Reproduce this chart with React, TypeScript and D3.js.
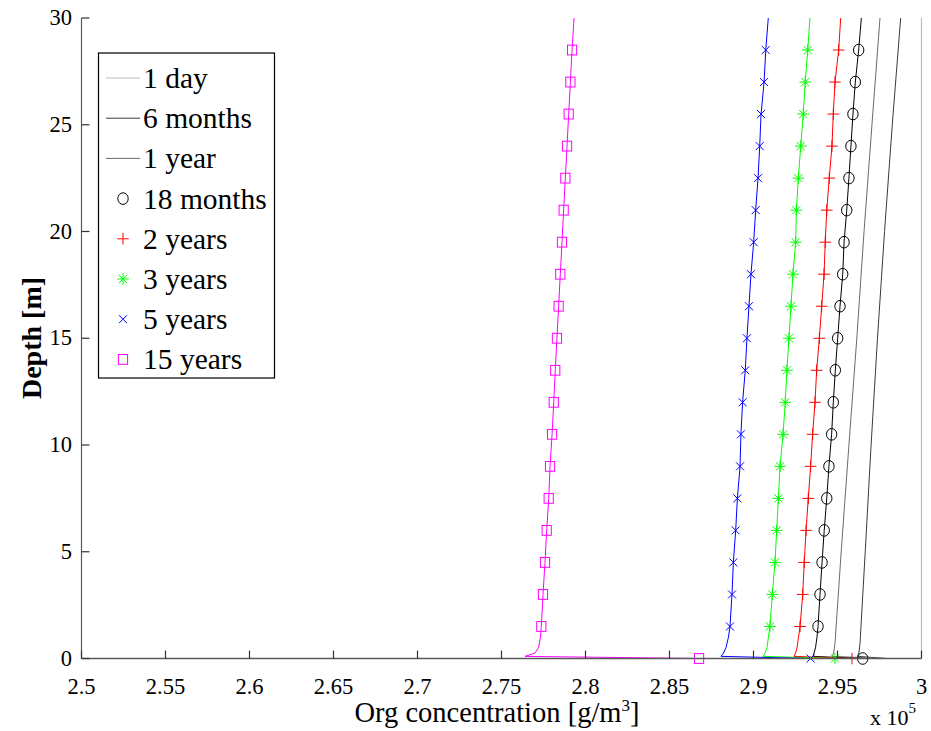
import React from "react";
import * as d3 from "d3";

// ---- data (concentration in units of 1e5 g/m^3) ----
const markerDepths = [0, 0.1, 0.25, 0.5, 1, 1.5, 3, 4.5, 6, 7.5, 9, 10.5, 12, 13.5, 15, 16.5, 18, 19.5, 21, 22.5, 24, 25.5, 27, 28.5, 30];
const months18 = [2.9650, 2.9354, 2.9360, 2.9369, 2.9378, 2.9384, 2.9396, 2.9408, 2.9421, 2.9436, 2.9449, 2.9465, 2.9475, 2.9487, 2.9501, 2.9515, 2.9531, 2.9539, 2.9555, 2.9568, 2.9580, 2.9592, 2.9606, 2.9626, 2.9642];
const years2 = [2.9586, 2.9241, 2.9250, 2.9259, 2.9268, 2.9277, 2.9293, 2.9302, 2.9313, 2.9326, 2.9340, 2.9352, 2.9366, 2.9376, 2.9392, 2.9406, 2.9420, 2.9427, 2.9436, 2.9451, 2.9467, 2.9475, 2.9485, 2.9507, 2.9519];
const years3 = [2.9485, 2.9058, 2.9068, 2.9080, 2.9089, 2.9098, 2.9112, 2.9128, 2.9138, 2.9148, 2.9158, 2.9176, 2.9189, 2.9199, 2.9211, 2.9223, 2.9235, 2.9251, 2.9255, 2.9267, 2.9281, 2.9296, 2.9308, 2.9323, 2.9336];
const years5 = [2.9340, 2.8807, 2.8821, 2.8836, 2.8851, 2.8860, 2.8872, 2.8880, 2.8894, 2.8904, 2.8920, 2.8925, 2.8935, 2.8951, 2.8961, 2.8973, 2.8985, 2.9001, 2.9013, 2.9027, 2.9037, 2.9045, 2.9063, 2.9073, 2.9088];
const years15 = [2.8676, 2.7640, 2.7699, 2.7720, 2.7732, 2.7737, 2.7747, 2.7759, 2.7769, 2.7781, 2.7789, 2.7801, 2.7811, 2.7820, 2.7830, 2.7840, 2.7850, 2.7860, 2.7870, 2.7880, 2.7890, 2.7900, 2.7910, 2.7920, 2.7932];

const lineDepths = [0, 0.1, 0.3, 0.7, 5, 10, 15, 20, 25, 30];
const day1 = [3.0, 3.0, 3.0, 3.0, 3.0, 3.0, 3.0, 3.0, 3.0, 3.0];
const months6 = [2.9795, 2.9620, 2.9628, 2.9634, 2.9665, 2.9700, 2.9738, 2.9780, 2.9826, 2.9876];
const year1 = [2.9780, 2.9470, 2.9478, 2.9485, 2.9522, 2.9568, 2.9615, 2.9658, 2.9705, 2.9753];

const xTicks = [2.5, 2.55, 2.6, 2.65, 2.7, 2.75, 2.8, 2.85, 2.9, 2.95, 3];
const yTicks = [0, 5, 10, 15, 20, 25, 30];
const legendLabels = ["1 day", "6 months", "1 year", "18 months", "2 years", "3 years", "5 years", "15 years"];

type Marker = "none" | "circle" | "plus" | "star" | "x" | "square";

const FONT = "'Liberation Serif', 'Times New Roman', serif";

const W = 931, H = 731;
const x = d3.scaleLinear().domain([2.5, 3.0]).range([81.5, 921.5]);
const y = d3.scaleLinear().domain([0, 30]).range([658.5, 18]);

function MarkerShape({ kind, cx, cy, color }: { kind: Marker; cx: number; cy: number; color: string }) {
  const sw = 1;
  if (kind === "circle") return <ellipse cx={cx} cy={cy} rx={5.2} ry={5.8} fill="none" stroke={color} strokeWidth={sw} />;
  if (kind === "square") return <rect x={cx - 4.6} y={cy - 4.9} width={9.2} height={9.8} fill="none" stroke={color} strokeWidth={sw} />;
  if (kind === "plus") {
    const r = 5.8;
    return <path d={`M${cx - r},${cy}H${cx + r}M${cx},${cy - r}V${cy + r}`} stroke={color} strokeWidth={sw} fill="none" />;
  }
  if (kind === "x") {
    const r = 4;
    return <path d={`M${cx - r},${cy - r}L${cx + r},${cy + r}M${cx - r},${cy + r}L${cx + r},${cy - r}`} stroke={color} strokeWidth={sw} fill="none" />;
  }
  if (kind === "star") {
    const r = 5.8, d = 4.1;
    return <path d={`M${cx - r},${cy}H${cx + r}M${cx},${cy - r}V${cy + r}M${cx - d},${cy - d}L${cx + d},${cy + d}M${cx - d},${cy + d}L${cx + d},${cy - d}`} stroke={color} strokeWidth={sw} fill="none" />;
  }
  return null;
}

export default function App() {
  const series: { label: string; depths: number[]; values: number[]; color: string; marker: Marker; width: number }[] = [
    { label: legendLabels[0], depths: lineDepths, values: day1, color: "#bdbdbd", marker: "none", width: 1.2 },
    { label: legendLabels[1], depths: lineDepths, values: months6, color: "#3a3a3a", marker: "none", width: 1 },
    { label: legendLabels[2], depths: lineDepths, values: year1, color: "#6a6a6a", marker: "none", width: 1 },
    { label: legendLabels[3], depths: markerDepths, values: months18, color: "#000000", marker: "circle", width: 1 },
    { label: legendLabels[4], depths: markerDepths, values: years2, color: "#ff0000", marker: "plus", width: 1 },
    { label: legendLabels[5], depths: markerDepths, values: years3, color: "#00ff00", marker: "star", width: 1 },
    { label: legendLabels[6], depths: markerDepths, values: years5, color: "#0000ff", marker: "x", width: 1 },
    { label: legendLabels[7], depths: markerDepths, values: years15, color: "#ff00ff", marker: "square", width: 1 },
  ];

  const line = d3
    .line<[number, number]>()
    .x((d) => x(d[1]))
    .y((d) => y(d[0]));

  const isMarked = (dp: number) => dp === 0 || (dp >= 1.5 && dp <= 28.5);

  const axisColor = "#5a5a5a";
  const legX = 98.5, legY = 53, legW = 176, legH = 325;

  return (
    <svg width={W} height={H} style={{ position: "absolute", left: 0, top: 0, background: "#fff" }} fontFamily={FONT}>
      <rect x={0} y={0} width={W} height={H} fill="#fff" />
      {/* series */}
      {series.map((s, i) => {
        const pts = s.depths.map((d, k) => [d, s.values[k]] as [number, number]);
        return (
          <g key={i}>
            <path d={line(pts) || ""} fill="none" stroke={s.color} strokeWidth={s.width} />
            {s.marker !== "none" &&
              pts.filter((p) => isMarked(p[0])).map((p, k) => (
                <MarkerShape key={k} kind={s.marker} cx={x(p[1])} cy={y(p[0])} color={s.color} />
              ))}
          </g>
        );
      })}

      {/* axes */}
      <line x1={x(2.5)} x2={x(3.0)} y1={y(0)} y2={y(0)} stroke={axisColor} strokeWidth={1.5} />
      <line x1={x(2.5)} x2={x(2.5)} y1={y(0)} y2={y(30)} stroke={axisColor} strokeWidth={1.2} />
      {xTicks.map((t) => (
        <g key={"xt" + t}>
          <line x1={x(t)} x2={x(t)} y1={y(0)} y2={y(0) - 8} stroke="#333" strokeWidth={1.2} />
          <text x={x(t)} y={694} textAnchor="middle" fontSize={22.5} fill="#000">
            {String(t)}
          </text>
        </g>
      ))}
      {yTicks.map((t) => (
        <g key={"yt" + t}>
          <line x1={x(2.5)} x2={x(2.5) + 8} y1={y(t)} y2={y(t)} stroke="#333" strokeWidth={1.2} />
          <text x={72} y={y(t) + 7} textAnchor="end" fontSize={22.5} fill="#000">
            {String(t)}
          </text>
        </g>
      ))}

      {/* axis titles */}
      <text x={497} y={722} textAnchor="middle" fontSize={28.5} fill="#000">
        Org concentration [g/m<tspan dy={-11} fontSize={17}>3</tspan><tspan dy={11}>]</tspan>
      </text>
      <text x={870} y={725} fontSize={22} fill="#000">
        x 10<tspan dy={-12} fontSize={15}>5</tspan>
      </text>
      <text transform={`translate(41,338) rotate(-90)`} textAnchor="middle" fontSize={28} fontWeight="bold" fill="#000">
        Depth [m]
      </text>

      {/* legend */}
      <rect x={legX} y={legY} width={legW} height={legH} fill="#fff" stroke="#000" strokeWidth={1.2} />
      {series.map((s, i) => {
        const cy = 78 + i * 40.2;
        return (
          <g key={"lg" + i}>
            {s.marker === "none" ? (
              <line x1={106} x2={140} y1={cy} y2={cy} stroke={s.color} strokeWidth={1} />
            ) : (
              <MarkerShape kind={s.marker} cx={123} cy={cy} color={s.color} />
            )}
            <text x={143} y={cy + 10} fontSize={29.5} fill="#000">
              {s.label}
            </text>
          </g>
        );
      })}
    </svg>
  );
}
